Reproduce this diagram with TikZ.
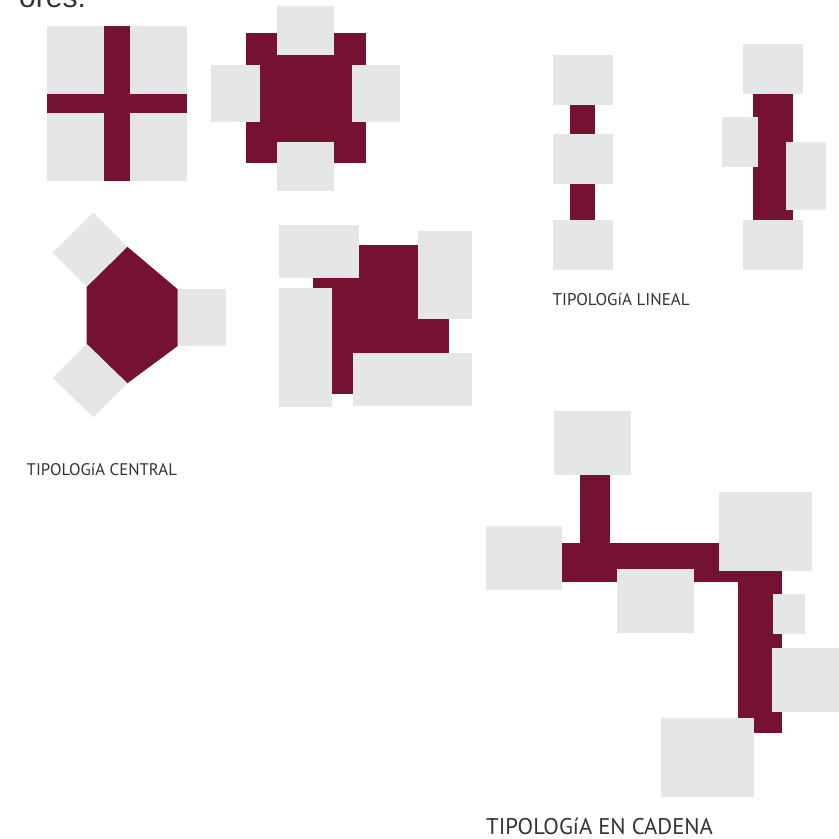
\documentclass[tikz,border=0pt]{standalone}
\usepackage{fontspec}
\setmainfont{Liberation Sans}
\newfontfamily\lblfont{PT Sans}
\definecolor{maroon}{HTML}{751131}
\definecolor{lightg}{HTML}{E5E6E8}
\definecolor{txt}{HTML}{333333}
\begin{document}
\begin{tikzpicture}[x=1pt,y=-1pt,
  gr/.style={fill=lightg,draw=none},
  mr/.style={fill=maroon,draw=none},
  lbl/.style={anchor=base west,inner sep=0pt,text=txt,font=\lblfont}]
\useasboundingbox (0,0) rectangle (839,839);
% top partial text
\node[anchor=base west,inner sep=0pt,text=txt,font=\fontsize{30}{30}\selectfont] (ores) at (19,7.5) {ores:};
% --- cross
\path[gr] (47,26) rectangle (187,181);
\path[mr] (104.3,26) rectangle (130,181);
\path[mr] (47,94) rectangle (187,113);
% --- square with four arms
\path[mr] (246,33) rectangle (365.7,163);
\path[gr] (277.3,6) rectangle (334.3,55);
\path[gr] (211.3,65) rectangle (260.3,121.7);
\path[gr] (351.7,65) rectangle (400.3,121.7);
\path[gr] (277.3,142) rectangle (334.3,190.7);
% --- hexagon
\path[mr] (127.3,246.7) -- (177.7,289.3) -- (177.7,346) -- (127.3,383.3) -- (86.7,344) -- (86.7,286.7) -- cycle;
\path[gr] (177.7,289.3) rectangle (225.7,346);
\path[gr] (86.7,286.7) -- (127.3,246.7) -- (93.3,212.7) -- (52.7,252.7) -- cycle;
\path[gr] (86.7,344) -- (127.3,383.3) -- (93.3,417.3) -- (52.7,378) -- cycle;
% --- pinwheel
\path[mr] (313.3,244.7) rectangle (449.3,393.7);
\path[gr] (279.3,225) rectangle (359.3,277.7);
\path[gr] (418.3,231) rectangle (471.7,318.7);
\path[gr] (279.3,288) rectangle (332.3,406.7);
\path[gr] (353.3,352.7) rectangle (471.7,406);
% --- linear 1
\path[mr] (569.7,104.7) rectangle (595.3,220);
\path[gr] (553.3,55) rectangle (612.7,104.7);
\path[gr] (553.3,134.3) rectangle (612.7,183.7);
\path[gr] (553.3,220) rectangle (612.7,269.7);
% --- linear 2
\path[mr] (752.7,93.7) rectangle (793.3,220);
\path[gr] (743.3,44) rectangle (802.7,93.7);
\path[gr] (721.7,117) rectangle (757.7,166.7);
\path[gr] (785.7,142) rectangle (825.7,209.7);
\path[gr] (743.3,220) rectangle (802.7,269.7);
% --- chain
\path[mr] (580.3,474.7) rectangle (610.3,543.3);
\path[mr] (562.3,543.3) rectangle (782.3,581.7);
\path[mr] (738.3,543.3) rectangle (782.3,733.3);
\path[gr] (554.3,411) rectangle (630.7,474.7);
\path[gr] (486.3,526) rectangle (562.3,589.7);
\path[gr] (617.3,569) rectangle (693.7,632.7);
\path[gr] (718.7,492) rectangle (811.7,570.7);
\path[gr] (773.3,594) rectangle (804.7,633.7);
\path[gr] (772.3,648) rectangle (839,711.7);
\path[gr] (661.3,717.7) rectangle (754.3,796.7);
% --- labels
\node[lbl,font=\lblfont\fontsize{16.8}{17}\selectfont] (lc) at (26.5,475.7) {TIPOLOGíA CENTRAL};
\node[lbl,font=\lblfont\fontsize{17}{17}\selectfont] (ll) at (552.5,305.5) {TIPOLOGíA LINEAL};
\node[lbl,font=\lblfont\fontsize{22.7}{23}\selectfont] (lk) at (486,834.5) {TIPOLOGíA EN CADENA};
\end{tikzpicture}
\end{document}
